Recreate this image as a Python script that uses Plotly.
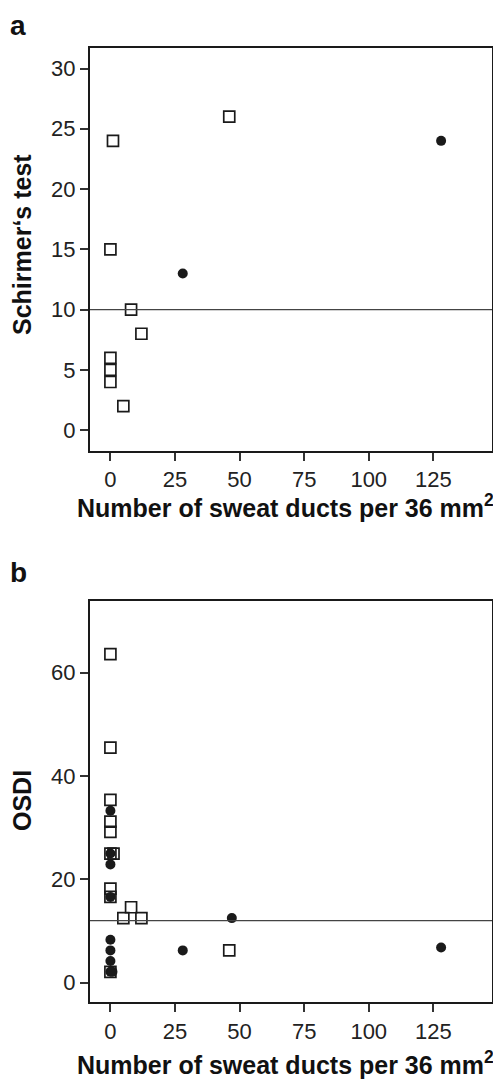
import plotly.graph_objects as go

# Panel a: Schirmer's test
a_sq_x = [1, 46, 0, 8, 12, 0, 0, 0, 5]
a_sq_y = [24, 26, 15, 10, 8, 6, 5, 4, 2]
a_ci_x = [28, 128]
a_ci_y = [13, 24]
a_ref = 10

# Panel b: OSDI
b_sq_x = [0, 0, 0, 0, 0, 0, 1.2, 0, 0, 5, 8, 12, 0, 46]
b_sq_y = [63.6, 45.5, 35.4, 31.2, 29.2, 25.0, 25.0, 18.2, 16.6, 12.5, 14.6, 12.5, 2.1, 6.25]
b_ci_x = [0, 0, 0, 0, 0, 0, 0, 0, 0.8, 28, 47, 128]
b_ci_y = [33.3, 25.0, 22.9, 16.6, 8.3, 6.25, 4.2, 2.1, 2.1, 6.25, 12.5, 6.8]
b_ref = 12

x_ticks = [0, 25, 50, 75, 100, 125]
a_yticks = [0, 5, 10, 15, 20, 25, 30]
b_yticks = [0, 20, 40, 60]

# page body has an 8px margin; size the figure to the remaining window
OFF = 8
W, H = 501 - OFF, 1082 - OFF
FONT = "Liberation Sans, Arial, Helvetica, sans-serif"
INK = "#1a1a1a"

def px_(x):
    return (x - OFF) / W

def py_(y):
    return 1 - (y - OFF) / H

fig = go.Figure()

sq_style = dict(symbol="square-open", size=11, color=INK, line=dict(width=1.7, color=INK))
ci_style = dict(symbol="circle", size=10, color=INK, line=dict(width=0))

fig.add_trace(go.Scatter(x=a_sq_x, y=a_sq_y, mode="markers", marker=sq_style,
                         xaxis="x", yaxis="y", showlegend=False))
fig.add_trace(go.Scatter(x=a_ci_x, y=a_ci_y, mode="markers", marker=ci_style,
                         xaxis="x", yaxis="y", showlegend=False))
fig.add_trace(go.Scatter(x=b_sq_x, y=b_sq_y, mode="markers", marker=sq_style,
                         xaxis="x2", yaxis="y2", showlegend=False))
fig.add_trace(go.Scatter(x=b_ci_x, y=b_ci_y, mode="markers", marker=ci_style,
                         xaxis="x2", yaxis="y2", showlegend=False))

xdom = [px_(90), px_(492)]
axis_common = dict(showline=True, linecolor=INK, linewidth=2, mirror=True,
                   ticks="outside", ticklen=8, tickwidth=1.5, tickcolor="#333",
                   showgrid=False, zeroline=False,
                   tickfont=dict(family=FONT, size=22, color="#222"))

fig.update_layout(
    width=W, height=H,
    margin=dict(l=0, r=0, t=0, b=0),
    paper_bgcolor="white", plot_bgcolor="white",
    xaxis=dict(domain=xdom, range=[-7.9, 147.7], tickvals=x_ticks, anchor="y", **axis_common),
    yaxis=dict(domain=[py_(450.7), py_(48)], range=[-1.7, 31.7], tickvals=a_yticks,
               anchor="x", **axis_common),
    xaxis2=dict(domain=xdom, range=[-7.9, 147.7], tickvals=x_ticks, anchor="y2", **axis_common),
    yaxis2=dict(domain=[py_(1002.3), py_(601)], range=[-3.8, 73.9], tickvals=b_yticks,
                anchor="x2", **axis_common),
)

fig.add_shape(type="line", xref="x domain", yref="y", x0=0, x1=1, y0=a_ref, y1=a_ref,
              line=dict(color="#444", width=1.2))
fig.add_shape(type="line", xref="x2 domain", yref="y2", x0=0, x1=1, y0=b_ref, y1=b_ref,
              line=dict(color="#444", width=1.2))

title_font = dict(family=FONT, size=25, color="#111")
xt = "<b>Number of sweat ducts per 36 mm<sup>2</sup></b>"
fig.add_annotation(text=xt, xref="paper", yref="paper", x=px_(285), y=py_(506),
                   xanchor="center", yanchor="middle", showarrow=False, font=title_font)
fig.add_annotation(text=xt, xref="paper", yref="paper", x=px_(285), y=py_(1063),
                   xanchor="center", yanchor="middle", showarrow=False, font=title_font)
fig.add_annotation(text="<b>Schirmer‘s test</b>", xref="paper", yref="paper",
                   x=px_(22), y=py_(245), xanchor="center", yanchor="middle",
                   textangle=-90, showarrow=False, font=title_font)
fig.add_annotation(text="<b>OSDI</b>", xref="paper", yref="paper",
                   x=px_(22), y=py_(801), xanchor="center", yanchor="middle",
                   textangle=-90, showarrow=False, font=title_font)

label_font = dict(family=FONT, size=28, color="#111")
fig.add_annotation(text="<b>a</b>", xref="paper", yref="paper", x=px_(8), y=1,
                   xanchor="left", yanchor="top", showarrow=False, font=label_font)
fig.add_annotation(text="<b>b</b>", xref="paper", yref="paper", x=px_(8), y=py_(572),
                   xanchor="left", yanchor="middle", showarrow=False, font=label_font)

fig.write_html("out.html")
